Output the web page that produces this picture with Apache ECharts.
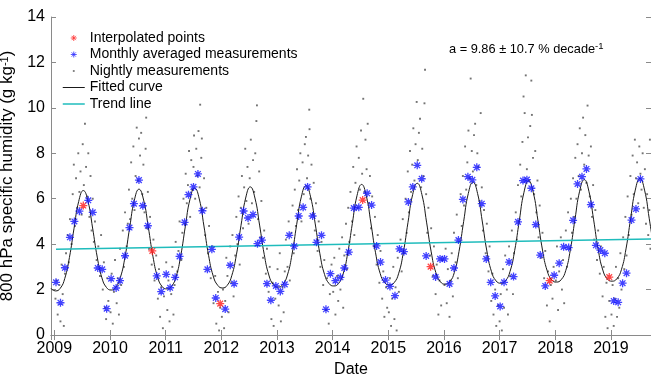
<!DOCTYPE html>
<html><head><meta charset="utf-8">
<script src="https://cdn.jsdelivr.net/npm/echarts@6/dist/echarts.min.js"></script>
<style>html,body{margin:0;padding:0;background:#fff}#c{width:651px;height:374px}</style>
</head><body><div id="c"></div>
<script>
// ---------- data ----------
// monthly averaged measurements: decimal year and value (g/kg)
const monthlyT = [
 2009.03,2009.11,2009.19,2009.28,2009.36,2009.45,2009.52,2009.61,2009.69,2009.78,2009.86,2009.94,
 2010.02,2010.11,2010.18,2010.27,2010.35,2010.43,2010.52,2010.59,2010.68,2010.76,2010.84,2010.92,
 2011.01,2011.08,2011.17,2011.25,2011.34,2011.41,2011.50,2011.58,2011.66,2011.75,2011.83,2011.90,
 2011.98,2012.07,2012.16,2012.23,2012.32,2012.40,2012.48,2012.57,2012.65,2012.73,2012.82,2012.89,
 2012.98,2013.06,2013.14,2013.22,2013.31,2013.39,2013.47,2013.55,2013.64,2013.71,2013.80,2013.88,
 2013.96,2014.05,2014.14,2014.21,2014.29,2014.38,2014.47,2014.54,2014.62,2014.70,2014.79,2014.86,
 2014.95,2015.03,2015.12,2015.20,2015.28,2015.36,2015.44,2015.52,2015.60,2015.68,2015.76,2015.85,
 2015.93,2016.01,2016.10,2016.18,2016.26,2016.34,2016.43,2016.51,2016.59,2016.68,2016.76,2016.84,
 2016.92,2017.01,2017.08,2017.17,2017.25,2017.33,2017.42,2017.49,2017.57,2017.65,2017.73,2017.82,
 2017.90,2017.98,2018.07,2018.15,2018.24,2018.32,2018.40,2018.48,2018.56,2018.64,2018.73,2018.81,
 2018.89,2018.97,2019.05,2019.13,2019.21,2019.28,2019.37,2019.45,2019.53
];
const monthlyV = [
 2.32,1.42,2.96,4.30,5.00,5.45,5.70,5.93,5.40,2.95,2.89,1.16,
 2.48,2.07,2.39,3.49,4.73,5.78,6.82,5.69,4.81,3.70,2.60,1.91,
 2.67,2.08,2.54,3.46,4.96,6.18,6.52,7.09,5.47,2.89,3.77,1.63,
 1.38,1.14,3.07,2.26,4.31,5.46,5.15,5.30,4.02,4.18,2.26,1.53,
 2.16,1.92,2.23,4.39,3.91,5.24,5.62,6.52,5.24,4.08,4.39,1.13,
 2.70,2.39,2.54,2.95,3.65,5.59,5.62,5.94,6.24,5.72,3.92,3.21,
 2.42,2.14,1.73,3.79,3.67,5.86,6.52,7.47,6.88,3.48,3.01,2.55,
 3.35,3.35,2.25,2.95,4.18,5.97,6.97,6.83,7.38,5.78,3.35,2.32,
 1.72,1.26,2.32,3.21,2.57,4.98,6.80,6.84,6.46,4.86,3.52,2.16,
 2.39,2.63,3.16,3.88,3.85,5.05,6.65,6.97,7.31,5.74,3.95,3.74,
 3.60,2.55,1.50,1.44,2.28,2.72,5.06,5.55,6.87
];
// positions (0-based) in the monthly list that are interpolated points
const interpolatedIdx = [6,21,36,67,82,108,121];

// fitted curve, sampled once a month starting at fitStart (decimal year)
const fitStart = 2008.9375;
const fitStep = 1/12;
const fitV = [
 2.05,
 1.94,2.05,2.49,3.41,4.70,5.88,6.36,5.89,4.71,3.43,2.52,2.09,
 1.98,2.10,2.54,3.45,4.74,5.93,6.42,5.94,4.76,3.47,2.56,2.13,
 2.03,2.14,2.57,3.49,4.79,5.98,6.47,5.99,4.80,3.51,2.60,2.18,
 2.07,2.18,2.61,3.53,4.83,6.03,6.52,6.03,4.84,3.55,2.64,2.21,
 2.11,2.22,2.64,3.56,4.87,6.08,6.57,6.08,4.89,3.58,2.67,2.26,
 2.16,2.26,2.68,3.60,4.91,6.13,6.63,6.13,4.93,3.62,2.71,2.30,
 2.20,2.30,2.72,3.64,4.96,6.18,6.68,6.18,4.97,3.66,2.75,2.34,
 2.24,2.34,2.76,3.68,5.00,6.23,6.73,6.23,5.02,3.70,2.79,2.38,
 2.28,2.38,2.80,3.72,5.04,6.28,6.79,6.28,5.06,3.74,2.83,2.42,
 2.33,2.43,2.83,3.75,5.09,6.33,6.84,6.33,5.10,3.77,2.86,2.46,
 2.37,2.47,2.87,3.79,5.13,6.38,6.89,6.38,5.14,3.81
];

// trend line end points
const trendT = [2009.03, 2019.72];
const trendV = [3.77, 4.23];

// nightly measurements per year: [fraction of year, value]
const night2009 = [[0.02,1.6],[0.04,2.4],[0.06,0.9],[0.09,2.2],[0.11,0.6],[0.13,3.1],[0.15,1.8],[0.17,0.4],[0.19,2.7],[0.21,3.6],[0.24,4.4],[0.26,3.2],[0.28,5.1],[0.31,4.0],[0.33,6.2],[0.35,7.5],[0.37,4.8],[0.39,6.9],[0.41,5.6],[0.43,8.0],[0.45,6.3],[0.47,7.2],[0.49,5.3],[0.51,8.4],[0.53,6.6],[0.55,9.3],[0.57,7.4],[0.59,6.1],[0.61,8.0],[0.63,5.2],[0.65,7.0],[0.67,4.6],[0.69,6.0],[0.71,4.1],[0.73,5.0],[0.76,3.3],[0.79,3.9],[0.82,2.6],[0.84,4.4],[0.87,2.0],[0.89,3.2],[0.91,1.2],[0.93,0.7],[0.95,2.5],[0.97,1.5]];
const night2010 = [[0.01,1.0],[0.03,2.7],[0.05,0.5],[0.07,1.9],[0.09,3.3],[0.12,1.4],[0.14,2.5],[0.16,0.9],[0.18,3.8],[0.2,2.2],[0.23,4.6],[0.25,3.0],[0.27,5.4],[0.3,3.9],[0.32,4.9],[0.34,6.4],[0.36,5.1],[0.38,7.6],[0.4,6.0],[0.42,8.3],[0.44,5.5],[0.46,7.0],[0.48,9.13],[0.5,6.8],[0.52,8.65],[0.54,7.9],[0.56,8.9],[0.58,6.2],[0.6,7.5],[0.62,5.4],[0.64,8.2],[0.65,9.57],[0.66,4.7],[0.68,6.3],[0.7,3.8],[0.72,5.2],[0.75,3.1],[0.78,4.2],[0.8,2.4],[0.83,3.5],[0.86,1.6],[0.88,2.9],[0.9,0.8],[0.92,2.1],[0.95,0.3],[0.97,1.7]];
const night2011 = [[0.01,3.2],[0.03,1.1],[0.05,2.4],[0.07,0.6],[0.1,1.8],[0.12,3.0],[0.14,0.9],[0.16,2.2],[0.18,4.1],[0.21,2.8],[0.23,3.7],[0.25,5.0],[0.28,3.3],[0.3,4.5],[0.32,6.0],[0.34,4.9],[0.36,7.1],[0.38,5.8],[0.4,6.6],[0.42,8.1],[0.44,5.2],[0.46,7.7],[0.48,6.4],[0.5,7.4],[0.51,8.78],[0.53,6.0],[0.55,8.2],[0.57,7.0],[0.59,8.98],[0.61,6.5],[0.62,10.14],[0.64,7.8],[0.65,8.65],[0.67,5.5],[0.69,6.9],[0.71,4.4],[0.73,5.6],[0.76,3.6],[0.78,4.8],[0.81,2.5],[0.84,3.9],[0.86,1.4],[0.89,2.6],[0.91,0.5],[0.94,1.9],[0.96,0.2],[0.98,1.2]];
const night2012 = [[0.01,0.8],[0.03,2.0],[0.05,0.3],[0.07,1.5],[0.09,3.4],[0.11,2.6],[0.13,1.0],[0.16,3.9],[0.18,2.3],[0.2,4.4],[0.22,1.7],[0.25,3.5],[0.27,5.2],[0.29,4.0],[0.31,6.1],[0.33,3.1],[0.35,5.6],[0.37,7.0],[0.39,4.7],[0.41,6.5],[0.43,8.2],[0.45,5.9],[0.47,7.4],[0.49,4.9],[0.51,6.9],[0.53,8.6],[0.55,5.8],[0.57,7.7],[0.59,6.3],[0.61,8.0],[0.63,9.42],[0.64,10.11],[0.66,5.1],[0.68,7.2],[0.7,4.3],[0.72,5.9],[0.75,3.4],[0.77,4.6],[0.8,2.7],[0.82,3.8],[0.85,1.9],[0.87,3.0],[0.9,0.7],[0.92,2.3],[0.94,0.4],[0.97,1.6]];
const night2013 = [[0.01,2.9],[0.03,1.3],[0.05,3.6],[0.07,0.6],[0.1,2.1],[0.12,1.0],[0.14,2.8],[0.16,4.2],[0.19,3.0],[0.21,5.0],[0.23,2.4],[0.26,4.5],[0.28,5.7],[0.3,3.6],[0.32,6.4],[0.34,4.8],[0.36,7.3],[0.38,5.5],[0.4,6.8],[0.42,8.0],[0.44,5.0],[0.46,7.6],[0.48,6.2],[0.5,8.4],[0.52,8.72],[0.54,6.9],[0.56,7.9],[0.58,9.92],[0.585,9.06],[0.6,6.0],[0.62,7.5],[0.64,5.3],[0.66,6.7],[0.68,4.6],[0.7,5.8],[0.73,3.7],[0.75,5.0],[0.78,3.0],[0.8,4.1],[0.83,2.2],[0.85,3.3],[0.88,1.1],[0.9,2.5],[0.93,0.5],[0.95,1.8],[0.98,3.1]];
const night2014 = [[0.01,1.9],[0.03,3.4],[0.05,0.9],[0.08,2.6],[0.1,1.5],[0.12,3.8],[0.14,2.0],[0.17,4.3],[0.19,1.2],[0.21,3.5],[0.24,4.9],[0.26,2.9],[0.28,5.6],[0.3,4.1],[0.32,6.3],[0.35,5.0],[0.37,7.4],[0.39,4.4],[0.41,6.7],[0.43,8.3],[0.45,5.6],[0.47,7.8],[0.49,6.4],[0.51,9.0],[0.53,7.1],[0.55,10.4],[0.57,6.3],[0.59,8.6],[0.61,7.3],[0.63,9.3],[0.65,5.8],[0.67,7.0],[0.69,4.7],[0.71,6.1],[0.74,3.9],[0.76,5.2],[0.79,3.1],[0.81,4.4],[0.84,2.3],[0.86,3.7],[0.89,1.6],[0.91,2.8],[0.93,0.8],[0.96,2.1],[0.98,1.2]];
const night2015 = [[0.01,1.0],[0.03,2.5],[0.05,0.4],[0.07,1.6],[0.09,3.0],[0.11,0.7],[0.13,2.1],[0.15,0.2],[0.17,3.4],[0.19,1.9],[0.22,4.2],[0.24,2.8],[0.26,5.1],[0.29,3.6],[0.31,6.0],[0.33,4.5],[0.35,7.2],[0.37,5.4],[0.39,8.1],[0.41,6.3],[0.43,7.5],[0.45,9.1],[0.47,6.8],[0.49,8.4],[0.51,10.26],[0.53,7.7],[0.55,8.9],[0.57,9.52],[0.59,6.5],[0.61,8.2],[0.63,7.0],[0.65,10.2],[0.66,11.68],[0.68,6.2],[0.7,4.5],[0.72,5.6],[0.75,3.5],[0.77,4.7],[0.8,2.6],[0.82,3.9],[0.85,1.8],[0.87,3.1],[0.9,0.9],[0.92,2.4],[0.95,1.3],[0.97,3.3]];
const night2016 = [[0.01,2.2],[0.03,3.8],[0.05,1.4],[0.07,2.9],[0.1,0.8],[0.12,2.4],[0.14,3.6],[0.16,1.7],[0.18,4.5],[0.21,3.2],[0.23,5.3],[0.25,2.5],[0.27,4.1],[0.3,6.2],[0.32,4.8],[0.34,7.0],[0.36,5.7],[0.38,8.3],[0.4,6.4],[0.42,7.6],[0.44,9.0],[0.46,6.9],[0.48,11.29],[0.5,8.1],[0.52,7.2],[0.54,8.8],[0.56,9.3],[0.58,6.6],[0.6,8.0],[0.62,7.4],[0.64,5.9],[0.66,9.77],[0.68,6.5],[0.7,4.6],[0.72,5.5],[0.75,3.6],[0.77,4.9],[0.8,2.8],[0.82,3.9],[0.85,1.5],[0.87,2.7],[0.89,0.9],[0.92,2.0],[0.94,0.4],[0.97,1.3]];
const night2017 = [[0.0,0.6],[0.02,1.8],[0.04,0.2],[0.06,2.9],[0.08,1.2],[0.1,3.5],[0.13,2.0],[0.15,0.9],[0.17,3.9],[0.19,2.6],[0.22,4.6],[0.24,1.8],[0.26,3.6],[0.29,5.4],[0.31,4.2],[0.33,6.6],[0.35,5.0],[0.37,7.5],[0.39,6.1],[0.41,8.5],[0.43,10.5],[0.45,9.77],[0.47,11.43],[0.49,7.3],[0.51,8.7],[0.53,6.8],[0.55,9.2],[0.57,11.2],[0.58,9.69],[0.6,7.8],[0.62,6.2],[0.64,8.1],[0.66,5.4],[0.68,6.8],[0.7,4.3],[0.72,5.7],[0.75,3.4],[0.77,4.5],[0.8,2.5],[0.82,3.7],[0.85,1.3],[0.87,2.8],[0.9,0.6],[0.92,2.2],[0.95,1.6],[0.97,3.0]];
const night2018 = [[0.01,2.4],[0.03,3.9],[0.05,1.1],[0.07,2.8],[0.1,4.3],[0.12,2.0],[0.14,3.3],[0.16,1.4],[0.19,4.6],[0.21,3.0],[0.23,5.4],[0.26,3.8],[0.28,6.0],[0.3,4.5],[0.32,6.9],[0.34,5.2],[0.36,7.8],[0.38,6.0],[0.4,8.4],[0.42,7.0],[0.44,9.1],[0.46,6.4],[0.48,8.0],[0.5,9.57],[0.52,7.5],[0.54,8.8],[0.56,6.7],[0.58,10.1],[0.6,7.9],[0.62,6.1],[0.64,8.3],[0.66,5.2],[0.68,6.6],[0.7,4.2],[0.72,5.5],[0.75,3.3],[0.77,4.6],[0.8,2.7],[0.82,3.9],[0.85,1.7],[0.87,3.0],[0.9,0.8],[0.92,2.3],[0.94,0.3],[0.97,1.5]];
const night2019 = [[0.01,0.9],[0.03,2.2],[0.05,0.4],[0.07,1.6],[0.09,3.0],[0.11,0.8],[0.13,2.5],[0.15,1.2],[0.17,3.6],[0.19,2.0],[0.22,4.3],[0.24,2.9],[0.26,5.2],[0.28,3.5],[0.3,6.1],[0.32,4.4],[0.35,7.0],[0.37,5.3],[0.39,7.9],[0.41,6.2],[0.43,8.6],[0.45,6.9],[0.47,7.6],[0.49,5.8],[0.51,8.3],[0.53,7.1],[0.55,6.4],[0.57,8.0],[0.59,5.6],[0.61,7.3],[0.63,4.9],[0.65,6.2],[0.67,4.4],[0.69,5.5],[0.7,8.6],[0.71,3.8]];
const nightlyByYear = {2009:night2009,2010:night2010,2011:night2011,2012:night2012,2013:night2013,2014:night2014,2015:night2015,2016:night2016,2017:night2017,2018:night2018,2019:night2019};

const xMin = 2008.94, xMax = 2019.72;
const yMin = 0, yMax = 14, yStep = 2;

// ---------- build series data ----------
const blueData = [], redData = [];
monthlyT.forEach((t, i) => {
  (interpolatedIdx.includes(i) ? redData : blueData).push([t, monthlyV[i]]);
});
const fitData = fitV.map((v, i) => [fitStart + i * fitStep, v]);
const trendData = trendT.map((t, i) => [t, trendV[i]]);
const nightData = [];
Object.keys(nightlyByYear).forEach(y => {
  nightlyByYear[y].forEach(p => nightData.push([Number(y) + p[0], p[1]]));
});

const FONT = 'Liberation Sans';
const AXC = '#8a8a8a';
const star = 'path://M5,0L5,10M0,5L10,5M1.46,1.46L8.54,8.54M1.46,8.54L8.54,1.46';
const dotIcon = 'path://M0,0M10,10M3.5,3.5L6.5,3.5L6.5,6.5L3.5,6.5Z';
const HIDE = 'rgba(0,0,0,0)';

const xLabelFmt = v => (Math.abs(v - Math.round(v)) < 1e-6 ? String(Math.round(v)) : '');
const baseX = {
  type: 'value', min: xMin, max: xMax, minInterval: 1, maxInterval: 1,
  splitLine: {show: false},
  axisLine: {show: true, lineStyle: {color: AXC, width: 1}},
  axisTick: {show: true, inside: true, length: 5, lineStyle: {color: AXC}}
};

const chart = echarts.init(document.getElementById('c'), null, {renderer: 'canvas'});
chart.setOption({
  animation: false,
  backgroundColor: '#fff',
  textStyle: {fontFamily: FONT},
  grid: {left: 51, right: 0, top: 17, bottom: 39, containLabel: false, outerBoundsMode: 'none'},
  xAxis: [
    Object.assign({}, baseX, {
      position: 'bottom',
      name: 'Date', nameLocation: 'middle', nameGap: 24,
      nameTextStyle: {fontSize: 16, color: '#000', fontFamily: FONT},
      axisLabel: {show: true, fontSize: 16, color: '#000', margin: 6, fontFamily: FONT,
                  formatter: xLabelFmt, showMinLabel: false, showMaxLabel: false}
    }),
    Object.assign({}, baseX, {position: 'top', axisLabel: {show: false}})
  ],
  yAxis: [
    {
      type: 'value', min: yMin, max: yMax, interval: yStep, position: 'left',
      name: '800 hPa specific humidity (g kg{s|-1})',
      nameLocation: 'middle', nameGap: 16, nameRotate: 90,
      nameTextStyle: {fontSize: 17, color: '#000', fontFamily: FONT,
        rich: {s: {fontSize: 11, verticalAlign: 'top', lineHeight: 11, color: '#000', fontFamily: FONT}}},
      splitLine: {show: false},
      axisLine: {show: true, lineStyle: {color: AXC}},
      axisTick: {show: true, inside: true, length: 5, lineStyle: {color: AXC}},
      axisLabel: {fontSize: 16, color: '#000', margin: 6, fontFamily: FONT}
    },
    {
      type: 'value', min: yMin, max: yMax, interval: yStep, position: 'right',
      splitLine: {show: false},
      axisLine: {show: true, lineStyle: {color: AXC}},
      axisTick: {show: true, inside: true, length: 5, lineStyle: {color: AXC}},
      axisLabel: {show: false}
    }
  ],
  legend: {
    orient: 'vertical', left: 62, top: 30, padding: 0, itemWidth: 22, itemHeight: 6, itemGap: 0.5,
    selectedMode: false,
    textStyle: {fontSize: 14, color: '#000', fontFamily: FONT, lineHeight: 16},
    data: [
      {name: 'Interpolated points', icon: star, itemStyle: {color: 'none', borderColor: '#ff3030', borderWidth: 1}},
      {name: 'Monthly averaged measurements', icon: star, itemStyle: {color: 'none', borderColor: '#3030ff', borderWidth: 1}},
      {name: 'Nightly measurements', icon: dotIcon, itemStyle: {color: '#555', borderWidth: 0}},
      {name: 'Fitted curve', itemStyle: {color: HIDE, borderColor: HIDE, borderWidth: 0}, lineStyle: {color: '#1a1a1a', width: 1}},
      {name: 'Trend line', itemStyle: {color: HIDE, borderColor: HIDE, borderWidth: 0}, lineStyle: {color: '#1fbcbc', width: 1.5}}
    ]
  },
  graphic: [{
    type: 'text', left: 449, top: 41, silent: true,
    style: {
      text: 'a = 9.86 \u00b1 10.7 % decade{s|-1}',
      fontSize: 12.8, fontFamily: FONT, fill: '#000', lineHeight: 16,
      rich: {s: {fontSize: 9.5, lineHeight: 9, verticalAlign: 'top', fill: '#000', fontFamily: FONT}}
    }
  }],
  series: [
    {
      name: 'Nightly measurements', type: 'scatter', data: nightData, z: 1,
      symbol: 'rect', symbolSize: 1.9, itemStyle: {color: '#505050'}, silent: true
    },
    {
      name: 'Fitted curve', type: 'line', data: fitData, z: 2, smooth: true,
      symbol: 'none', itemStyle: {color: HIDE, borderColor: HIDE, borderWidth: 0},
      lineStyle: {color: '#1a1a1a', width: 1}, silent: true
    },
    {
      name: 'Trend line', type: 'line', data: trendData, z: 3,
      symbol: 'none', itemStyle: {color: HIDE, borderColor: HIDE, borderWidth: 0},
      lineStyle: {color: '#1fbcbc', width: 1.5}, silent: true
    },
    {
      name: 'Monthly averaged measurements', type: 'scatter', data: blueData, z: 4,
      symbol: star, symbolSize: 8,
      itemStyle: {color: 'none', borderColor: '#1414ff', borderWidth: 1.3}, silent: true
    },
    {
      name: 'Interpolated points', type: 'scatter', data: redData, z: 5,
      symbol: star, symbolSize: 8,
      itemStyle: {color: 'none', borderColor: '#ff1a1a', borderWidth: 1.3}, silent: true
    }
  ]
});
</script></body></html>
